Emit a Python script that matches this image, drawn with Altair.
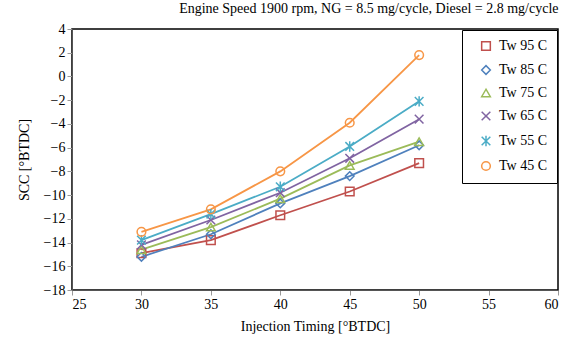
import altair as alt
import pandas as pd

timing = [30, 35, 40, 45, 50]
series = ["Tw 95 C", "Tw 85 C", "Tw 75 C", "Tw 65 C", "Tw 55 C", "Tw 45 C"]
tw95 = [-14.9, -13.8, -11.7, -9.7, -7.3]
tw85 = [-15.2, -13.3, -10.7, -8.4, -5.8]
tw75 = [-14.6, -12.7, -10.3, -7.5, -5.5]
tw65 = [-14.2, -12.1, -9.8, -6.9, -3.6]
tw55 = [-13.8, -11.6, -9.3, -5.9, -2.1]
tw45 = [-13.1, -11.2, -8.0, -3.9, 1.8]
values = [tw95, tw85, tw75, tw65, tw55, tw45]
colors = ["#C0504D", "#4F81BD", "#9BBB59", "#8064A2", "#4BACC6", "#F79646"]
shapes = [
    "square",
    "diamond",
    "triangle-up",
    "M-1,-1L1,1M-1,1L1,-1",
    "M-1,-1L1,1M-1,1L1,-1M0,-1.2L0,1.2",
    "circle",
]

rows = []
for s, vals in zip(series, values):
    for t, v in zip(timing, vals):
        rows.append({"timing": t, "scc": v, "series": s})
df = pd.DataFrame(rows)

FONT = "'Liberation Serif', 'Times New Roman', Times, serif"

x = alt.X(
    "timing:Q",
    scale=alt.Scale(domain=[25, 60], nice=False),
    axis=alt.Axis(values=[25, 30, 35, 40, 45, 50, 55, 60], title="Injection Timing [°BTDC]",
                  grid=False, titlePadding=8),
)
y = alt.Y(
    "scc:Q",
    scale=alt.Scale(domain=[-18, 4], nice=False),
    axis=alt.Axis(values=list(range(-18, 5, 2)), title="SCC [°BTDC]", grid=False, titlePadding=12),
)
color = alt.Color("series:N", scale=alt.Scale(domain=series, range=colors), title=None,
                  sort=series)
shape = alt.Shape("series:N", scale=alt.Scale(domain=series, range=shapes), title=None,
                  sort=series)

lines = alt.Chart(df).mark_line(strokeWidth=1.8).encode(x=x, y=y, color=color, detail="series:N")
points = alt.Chart(df).mark_point(filled=False, size=75, strokeWidth=1.5, opacity=1).encode(
    x=x, y=y, color=color, shape=shape,
)

chart = (
    alt.layer(lines, points)
    .properties(
        width=486,
        height=261,
        padding={"left": 72, "top": 29, "right": 18, "bottom": 62},
        autosize=alt.AutoSizeParams(type="none"),
        title=alt.TitleParams(
            "Engine Speed 1900 rpm, NG = 8.5 mg/cycle, Diesel = 2.8 mg/cycle",
            anchor="end", font=FONT, fontSize=14, fontWeight="normal", color="black", offset=6,
        ),
    )
    .configure_view(stroke="black", strokeWidth=1.5)
    .configure_axis(
        labelFont=FONT, titleFont=FONT, labelFontSize=14, titleFontSize=14,
        labelColor="black", titleColor="black", titleFontWeight="normal",
        domainColor="#555", tickColor="#999", tickSize=5,
    )
    .configure_legend(
        orient="top-right", offset=1, labelFont=FONT, labelFontSize=14, labelColor="black",
        strokeColor="black", fillColor="white", padding=9, rowPadding=8, symbolSize=75,
        symbolStrokeWidth=1.5, symbolOffset=8, labelOffset=6,
    )
)

chart.save("out.html", embed_options={"renderer": "svg", "actions": False})
